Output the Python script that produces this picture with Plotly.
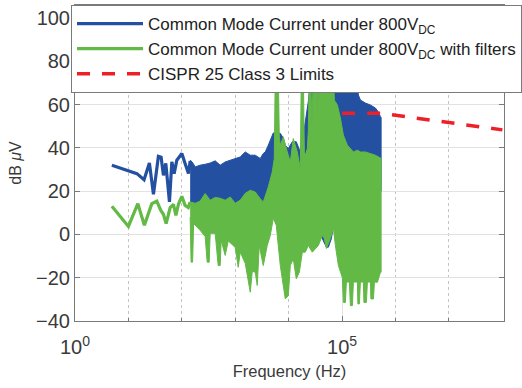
import plotly.graph_objects as go

# ---------------- data ----------------
# Sparse low-frequency part of the spectra (line traces)
blue_freq = [4.9, 14.4, 19.6, 24.7, 29.4, 36.4, 40.9, 45.2, 50.1, 58.6, 65.0, 71.8,
             80.5, 100, 115, 133, 143]
blue_val = [32.0, 28.1, 25.3, 33.0, 18.5, 36.1, 35.7, 27.3, 32.8, 15.0, 33.5, 28.1,
            34.3, 37.4, 32.8, 28.1, 34.0]

green_freq = [4.9, 10, 15, 19.9, 27.4, 34, 40.4, 45.2, 50.8, 60.4, 69.7, 77.3,
              86.3, 100, 115, 132, 143]
green_val = [13.0, 3.7, 14.2, 4.2, 14.2, 15.4, 11.1, 9.3, 5.0, 12.4, 13.9, 8.8,
             13.9, 17.6, 13.4, 12.4, 15.0]

# Dense part of the spectra: upper / lower envelopes
blue_hi_freq = [143, 156, 178, 220, 273, 339, 421, 522, 648, 804, 998, 1238, 1537,
                1906, 2366, 2935, 3342, 3642, 4146, 4519, 5146, 5861, 6966, 7925,
                8630, 9840, 11670, 13870, 16490, 18790, 21380, 23280, 26540, 184900,
                201600, 219800, 272900, 338100, 419800, 478300, 521300, 537000]
blue_hi = [34.3, 33.5, 31.2, 32.0, 32.4, 33.0, 34.0, 32.0, 33.5, 34.3, 35.1, 35.8, 38.1,
           36.6, 36.6, 35.1, 37.4, 38.1, 41.2, 43.6, 46.9, 46.9, 46.7, 44.5,
           41.2, 39.7, 42.8, 42.8, 38.1, 45.9, 55.1, 61.3, 75, 75,
           64.4, 62.1, 60.7, 59.8, 58.4, 56.5, 54.4, 54.0]
blue_lo_freq = [143, 178, 220, 273, 339, 421, 522, 804, 1238, 1906, 2935, 4519, 6966,
                10715, 14490, 16490, 25410, 39080, 50700, 55210, 62850, 74800, 142800,
                537000]
blue_lo = [14.0, 13.0, 13.0, 14.0, 13.0, 13.4, 14.0, 14.0, 13.0, 15.0, 14.0, 10, 5,
           5, -0.5, 5, 5, 0, -5.9, -5.9, -2, 10, 20,
           20]

green_hi_freq = [143, 178, 220, 273, 339, 421, 522, 648, 804, 998, 1238, 1537, 1906,
                 2366, 2935, 3342, 4146, 4928, 5370, 5610, 6383, 6668, 6966, 7925,
                 9419, 10715, 12190, 14490, 16490, 17220, 18790, 19620, 20470, 22340,
                 23280, 24320, 25940, 27100, 28910, 34360, 35140, 35890, 68550, 71610,
                 81470, 92730, 105500, 125400, 142800, 162500, 193200, 219800, 272900,
                 338100, 419800, 537000]
green_hi = [15.0, 14.4, 15.4, 18.9, 15.8, 17.1, 16.7, 15.8, 17.3, 14.4, 15.8, 19.0, 20.4,
            19.6, 16.5, 15.0, 21.9, 28.9, 35, 75, 75, 45, 41.2, 45.1,
            38.1, 33.5, 44.3, 38.1, 30.4, 75, 75, 38, 36.6, 39.7,
            48, 75, 75, 50, 75, 75, 55, 75, 75, 62,
            59.8, 53.8, 45.9, 41.2, 39.7, 38.1, 38.9, 38.1, 38.1,
            37.4, 36.6, 35.1]
green_lo_freq = [143, 149, 159, 166, 220, 273, 298, 325, 339, 421, 479, 522, 545, 648,
                 738, 998, 1136, 1238, 1537, 1906, 2080, 2366, 2578, 2812, 3342, 3970,
                 4519, 5146, 5861, 6383, 6966, 7586, 8630, 9840, 10715, 12190, 13870,
                 15810, 17990, 20470, 23280, 27680, 31550, 35890, 42660, 46450, 50700,
                 60260, 68550, 74800, 85100, 92730, 101100, 105500, 115100, 120200,
                 136800, 142800, 155600, 162500, 193200, 197200, 210400, 219800,
                 250000, 255800, 284600, 297200, 338100, 345900, 385300, 402700,
                 458300, 521300, 537000]
green_lo = [8, -12.8, -12.8, 5, 1.9, -1, -12.8, -12.8, 0.5, 0.5, -14.4, -14.4, -2.8, -9.7,
            -3, -6, -15.2, -8.2, -13.4, -26.7, -17, -17.5, -23.6, -5.1, -14.4, -5.1,
            -0.5, 7.4, 4.2, -5.1, -14.4, -20.5, -29.8, -28.3, -14.4, -11.3, -20.5,
            -17.5, -8.2, -8.2, -5.1, -8.2, -6.5, -5.1, -0.5, -1.9, -6.5,
            -1.9, 2.8, -5.1, -14.4, -17.5, -20, -31.4, -31.4, -22,
            -22, -32.9, -32.9, -22, -22, -32.1, -32.1, -22,
            -22, -31.4, -31.4, -22, -22, -29.8, -29.8, -22,
            -22.1, -17.5, -17.5]

# CISPR 25 Class 3 limit line
limit_freq = [1e5, 5.2e5, 1e8]
limit_val = [56, 56, 48.3]

# Axis ticks
y_ticks = [-40, -20, 0, 20, 40, 60, 80, 100]
x_ticks = [1, 1e5]
x_ticktext = ["10<sup>0</sup>", "10<sup>5</sup>"]
x_minor = [10, 100, 1e3, 1e4, 1e6, 1e7]

BLUE = "#2450a2"
GREEN = "#62b946"
RED = "#ee1f26"
TXT = "#3a3a3a"
AX = "#7a7a7a"

fig = go.Figure()

# Blue band (dense part)
fig.add_trace(go.Scatter(
    x=blue_hi_freq + blue_lo_freq[::-1], y=blue_hi + blue_lo[::-1],
    mode="lines", fill="toself", fillcolor=BLUE,
    line=dict(color=BLUE, width=1), showlegend=False, hoverinfo="skip"))
fig.add_trace(go.Scatter(
    x=blue_freq, y=blue_val, mode="lines",
    line=dict(color=BLUE, width=3.2),
    name="Common Mode Current under 800V<sub>DC</sub>"))

# Green band (dense part)
fig.add_trace(go.Scatter(
    x=green_hi_freq + green_lo_freq[::-1], y=green_hi + green_lo[::-1],
    mode="lines", fill="toself", fillcolor=GREEN,
    line=dict(color=GREEN, width=1), showlegend=False, hoverinfo="skip"))
fig.add_trace(go.Scatter(
    x=green_freq, y=green_val, mode="lines",
    line=dict(color=GREEN, width=3.2),
    name="Common Mode Current under 800V<sub>DC</sub> with filters"))

fig.add_trace(go.Scatter(
    x=limit_freq, y=limit_val, mode="lines",
    line=dict(color=RED, width=3.5, dash="13px,12px"),
    name="CISPR 25 Class 3 Limits"))

fig.update_layout(
    width=522, height=388,
    margin=dict(l=75, r=18, t=5, b=67),
    paper_bgcolor="white", plot_bgcolor="white",
    font=dict(family="Liberation Sans, Arial, sans-serif", color=TXT),
    legend=dict(x=0, y=1, xanchor="left", yanchor="top",
                bgcolor="white", bordercolor=AX, borderwidth=1,
                font=dict(size=17, color="#222222"), itemwidth=66,
                tracegroupgap=0),
)
fig.update_xaxes(
    type="log", range=[0, 8.03],
    tickmode="array", tickvals=x_ticks, ticktext=x_ticktext,
    ticks="inside", ticklen=5, tickcolor=AX,
    showline=True, linecolor=AX, linewidth=1, mirror="ticks",
    showgrid=True, gridcolor="#e2e2e2", gridwidth=1,
    minor=dict(tickmode="array", tickvals=x_minor, ticks="inside", ticklen=3,
               tickcolor=AX, showgrid=True, griddash="dot", gridcolor="#c4c4c4"),
    tickfont=dict(size=20, color=TXT), ticklabelstandoff=8,
    title=dict(text="Frequency (Hz)", font=dict(size=16.5, color=TXT), standoff=8),
    zeroline=False,
)
fig.update_yaxes(
    range=[-40, 106], tickmode="array", tickvals=y_ticks,
    ticks="inside", ticklen=5, tickcolor=AX,
    showline=True, linecolor=AX, linewidth=1, mirror="ticks",
    showgrid=True, gridcolor="#e2e2e2", gridwidth=1,
    tickfont=dict(size=20, color=TXT),
    title=dict(text="dB <i>μ</i>V", font=dict(size=16, color=TXT), standoff=10),
    zeroline=False,
)

fig.write_html("out.html")
